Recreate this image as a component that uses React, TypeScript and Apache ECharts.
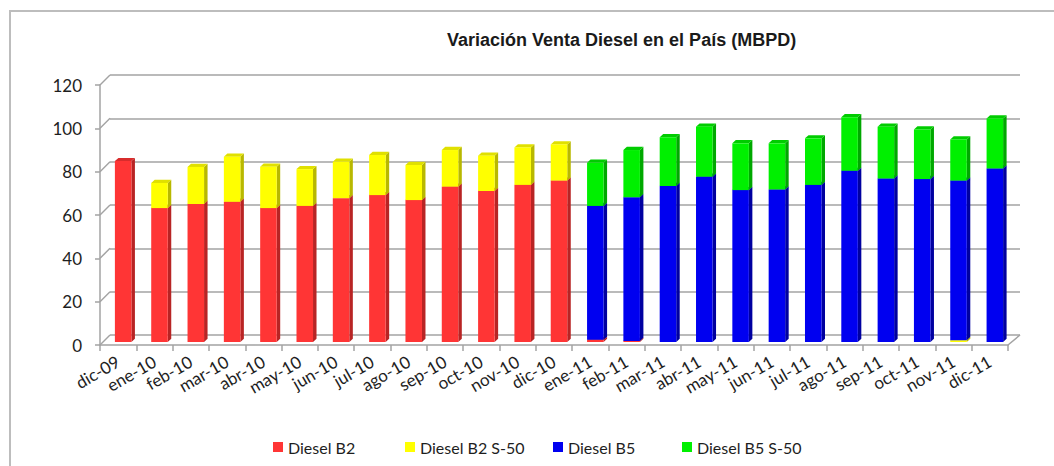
import React, { useEffect, useRef } from "react";
import * as echarts from "echarts";

const categories = [
  "dic-09", "ene-10", "feb-10", "mar-10", "abr-10", "may-10", "jun-10", "jul-10", "ago-10",
  "sep-10", "oct-10", "nov-10", "dic-10", "ene-11", "feb-11", "mar-11", "abr-11", "may-11",
  "jun-11", "jul-11", "ago-11", "sep-11", "oct-11", "nov-11", "dic-11",
];
const dieselB2 = [83.5, 61.8, 63.7, 64.7, 61.8, 62.8, 66.4, 67.8, 65.5, 71.7, 69.7, 72.5, 74.5, 1.0, 0.5, 0, 0, 0, 0, 0, 0, 0, 0, 0, 0];
const dieselB2S50 = [0, 11.6, 17.1, 20.8, 19.1, 17.0, 16.8, 18.5, 16.2, 16.9, 16.3, 17.3, 16.7, 0, 0, 0, 0, 0, 0, 0, 0, 0, 0, 0.8, 0];
const dieselB5 = [0, 0, 0, 0, 0, 0, 0, 0, 0, 0, 0, 0, 0, 61.8, 66.3, 72.0, 76.3, 70.1, 70.4, 72.5, 79.0, 75.5, 75.2, 73.7, 80.1];
const dieselB5S50 = [0, 0, 0, 0, 0, 0, 0, 0, 0, 0, 0, 0, 0, 19.9, 21.8, 22.5, 23.1, 21.6, 21.3, 21.5, 24.7, 23.9, 22.9, 19.0, 23.1];
const seriesNames = ["Diesel B2", "Diesel B2 S-50", "Diesel B5", "Diesel B5 S-50"];
const Y_MIN = 0;
const Y_MAX = 120;
const Y_INTERVAL = 20;

const TITLE = "Variación Venta Diesel en el País (MBPD)";

// styles
const FRONT_COLORS = ["#FF3535", "#FFFF00", "#0000F0", "#00F000"];
const SIDE_COLORS = ["#B82424", "#B8B800", "#0000A0", "#00A800"];
const TOP_COLORS = ["#D82C2C", "#E0E000", "#0000C8", "#00CC00"];
const GRID_COLOR = "#a3a3a3";
const TEXT_COLOR = "#1e1e1e";
const FONT = "Lato, 'Liberation Sans', sans-serif";

const FRONT = { left: 100, top: 85, width: 908, height: 260 };
const BACK = { left: 110, top: 75, width: 910, height: 260 };
const BARS = { left: 105, top: 82, width: 908, height: 260 };
const LEGEND_LEFTS = [273, 405, 553, 682];

export default function App() {
  const ref = useRef<HTMLDivElement>(null);
  useEffect(() => {
    if (!ref.current) return;
    const chart = echarts.init(ref.current, undefined, { renderer: "svg" });
    const all = [dieselB2, dieselB2S50, dieselB5, dieselB5S50];
    const cum = categories.map(() => 0);
    const seriesData = all.map((arr) =>
      arr.map((v, i) => {
        const base = cum[i];
        cum[i] += v;
        return [i, base, base + v];
      })
    );

    const makeRender = (si: number) => (params: any, api: any) => {
      const idx = api.value(0);
      const base = api.value(1);
      const top = api.value(2);
      if (top - base <= 0) return null;
      const p0 = api.coord([idx, base]);
      const p1 = api.coord([idx, top]);
      const band = api.size([1, 0])[0];
      const w = band * 0.455;
      const x = p0[0] - w / 2;
      const yb = p0[1];
      const yt = p1[1];
      const dx = 3.5;
      const dy = 3.2;
      return {
        type: "group",
        children: [
          {
            type: "polygon",
            shape: { points: [[x + w, yb], [x + w + dx, yb - dy], [x + w + dx, yt - dy], [x + w, yt]] },
            style: { fill: SIDE_COLORS[si] },
          },
          {
            type: "polygon",
            shape: { points: [[x, yt], [x + dx, yt - dy], [x + w + dx, yt - dy], [x + w, yt]] },
            style: { fill: TOP_COLORS[si] },
          },
          {
            type: "rect",
            shape: { x, y: yt, width: w, height: yb - yt },
            style: { fill: FRONT_COLORS[si] },
          },
        ],
      };
    };

    const hiddenCat = (gridIndex: number) => ({
      type: "category",
      gridIndex,
      data: categories,
      boundaryGap: true,
      axisLine: { show: false },
      axisTick: { show: false },
      axisLabel: { show: false },
      splitLine: { show: false },
    });

    chart.setOption({
      animation: false,
      backgroundColor: "#ffffff",
      title: {
        text: TITLE,
        left: 447,
        top: 31,
        padding: 0,
        textStyle: { fontFamily: "'Liberation Sans', Arial, sans-serif", fontWeight: "bold", fontSize: 18, color: "#1a1a1a" },
      },
      legend: LEGEND_LEFTS.map((left, i) => ({
        data: [seriesNames[i]],
        left,
        top: 439,
        padding: 0,
        itemWidth: 10,
        itemHeight: 10,
        icon: "rect",
        selectedMode: false,
        textStyle: { fontFamily: FONT, fontSize: 16, color: TEXT_COLOR },
      })),
      grid: [
        { ...BACK, containLabel: false },
        { ...FRONT, containLabel: false },
        { ...BARS, containLabel: false },
      ],
      xAxis: [
        hiddenCat(0),
        {
          type: "category",
          gridIndex: 1,
          data: categories,
          boundaryGap: true,
          axisLine: { show: true, lineStyle: { color: GRID_COLOR, width: 1.5 } },
          axisTick: { show: true, length: 6, lineStyle: { color: GRID_COLOR, width: 1.5 } },
          axisLabel: { interval: 0, rotate: 30, margin: 15, fontFamily: FONT, fontSize: 17, color: TEXT_COLOR },
          splitLine: { show: false },
        },
        hiddenCat(2),
      ],
      yAxis: [
        {
          type: "value",
          gridIndex: 0,
          min: Y_MIN,
          max: Y_MAX,
          interval: Y_INTERVAL,
          axisLine: { show: false },
          axisTick: { show: false },
          axisLabel: { show: false },
          splitLine: { show: true, lineStyle: { color: GRID_COLOR, width: 1.5 } },
        },
        {
          type: "value",
          gridIndex: 1,
          min: Y_MIN,
          max: Y_MAX,
          interval: Y_INTERVAL,
          axisLine: { show: true, lineStyle: { color: GRID_COLOR, width: 1.5 } },
          axisTick: { show: true, length: 5, lineStyle: { color: GRID_COLOR, width: 1.5 } },
          axisLabel: { margin: 18, fontFamily: FONT, fontSize: 17, color: TEXT_COLOR },
          splitLine: { show: false },
        },
        {
          type: "value",
          gridIndex: 2,
          min: Y_MIN,
          max: Y_MAX,
          interval: Y_INTERVAL,
          show: false,
          splitLine: { show: false },
        },
      ],
      series: seriesNames.map((name, si) => ({
        type: "custom",
        name,
        xAxisIndex: 2,
        yAxisIndex: 2,
        itemStyle: { color: FRONT_COLORS[si] },
        encode: { x: 0, y: 2 },
        data: seriesData[si],
        renderItem: makeRender(si),
      })),
    });

    const ticks: number[] = [];
    for (let v = Y_MIN; v <= Y_MAX; v += Y_INTERVAL) ticks.push(v);
    const connectors = ticks.map((v) => {
      const yf = chart.convertToPixel({ yAxisIndex: 1 } as any, v) as number;
      const yb = chart.convertToPixel({ yAxisIndex: 0 } as any, v) as number;
      return {
        type: "line",
        shape: { x1: FRONT.left, y1: yf, x2: BACK.left, y2: yb },
        style: { stroke: GRID_COLOR, lineWidth: 1.5 },
      };
    });
    const yf0 = chart.convertToPixel({ yAxisIndex: 1 } as any, Y_MIN) as number;
    const yb0 = chart.convertToPixel({ yAxisIndex: 0 } as any, Y_MIN) as number;
    chart.setOption({
      graphic: [
        {
          type: "rect",
          shape: { x: 10, y: 11, width: 1200, height: 600 },
          style: { fill: "none", stroke: "#bdbdbd", lineWidth: 2 },
          silent: true,
        },
        ...connectors,
        {
          type: "line",
          shape: { x1: FRONT.left + FRONT.width, y1: yf0, x2: BACK.left + BACK.width, y2: yb0 },
          style: { stroke: GRID_COLOR, lineWidth: 1.5 },
        },
      ],
    });

    return () => chart.dispose();
  }, []);
  return <div ref={ref} style={{ position: "fixed", left: 0, top: 0, width: 1054, height: 466 }} />;
}
